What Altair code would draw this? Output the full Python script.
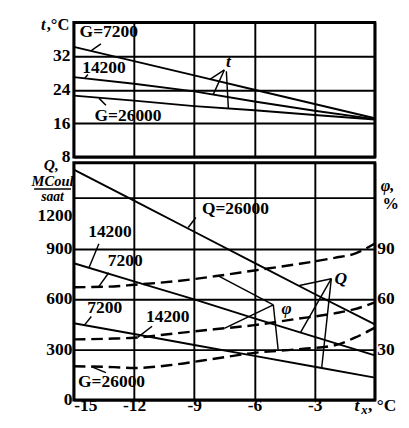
import altair as alt
import pandas as pd

FONT = "Liberation Serif"

# ---------------- data ----------------
x_t = [-15, -12, -9, -6, -3, 0]
t_7200 = [34.2, 30.8, 27.4, 24.0, 20.6, 17.2]
t_14200 = [27.0, 25.4, 23.6, 21.2, 19.0, 17.0]
t_26000 = [22.6, 21.4, 20.1, 19.1, 18.0, 16.9]

x_q = [-15, -12, -9, -6, -3, 0]
q_7200 = [456, 392, 327, 262, 197, 133]
q_14200 = [813, 705, 598, 485, 375, 265]
q_26000 = [1370, 1185, 1000, 815, 630, 450]

x_phi = [-15, -13, -12, -10, -8, -6, -4, -2, -1, 0]
phi_7200 = [67, 67.5, 68.5, 70.5, 73.5, 77, 80.5, 84.5, 87, 93]
phi_14200 = [36, 36.5, 37, 39.5, 42, 44.5, 48, 51.5, 54, 58]
phi_26000 = [20, 19.5, 19, 21, 24.5, 28, 30, 32.5, 37, 43]

x_ticks = [-15, -12, -9, -6, -3, 0]
t_ticks = [8, 16, 24, 32]
q_ticks = [0, 300, 600, 900, 1200]
phi_ticks = [30, 60, 90]

# curve labels (top panel, t units)
top_label_text = ["G=7200", "14200", "G=26000"]
top_label_x = [-13.26, -13.5, -12.3]
top_label_y = [37.7, 29.2, 17.7]
# leader lines (top panel)
top_lead_x = [-13.65, -14.3, -13.4, -7.5, -7.5, -7.4]
top_lead_y = [34.9, 27.6, 20.3, 28.7, 28.7, 28.4]
top_lead_x2 = [-14.13, -14.45, -13.75, -8.2, -8.05, -7.3]
top_lead_y2 = [33.3, 26.8, 22.0, 26.5, 22.9, 19.6]
top_sym_text = ["t"]
top_sym_x = [-7.3]
top_sym_y = [30.5]

# curve labels (bottom panel, Q units)
bot_label_text = ["Q=26000", "14200", "7200", "7200", "14200", "G=26000"]
bot_label_x = [-6.95, -13.2, -12.44, -13.46, -10.32, -13.12]
bot_label_y = [1136, 998, 825, 548, 490, 104]
bot_sym_text = ["φ", "Q"]
bot_sym_x = [-4.4, -1.7]
bot_sym_y = [540, 720]
bot_lead_x = [-8.92, -13.75, -13.26, -14.13, -11.1, -13.4,
              -5.06, -5.06, -5.06, -2.17, -2.17, -2.17]
bot_lead_y = [1085, 929, 756, 496, 438, 162,
              565, 565, 565, 721, 721, 721]
bot_lead_x2 = [-9.3, -14.25, -13.75, -14.47, -11.82, -14.13,
               -7.8, -7.5, -4.82, -3.76, -3.71, -2.65]
bot_lead_y2 = [1025, 785, 675, 445, 372, 198,
               738, 426, 300, 680, 400, 190]

# ---------------- tables ----------------
top_df = pd.DataFrame({
    "x": x_t * 3,
    "t": t_7200 + t_14200 + t_26000,
    "G": ["7200"] * len(x_t) + ["14200"] * len(x_t) + ["26000"] * len(x_t),
})
q_df = pd.DataFrame({
    "x": x_q * 3,
    "Q": q_7200 + q_14200 + q_26000,
    "G": ["7200"] * len(x_q) + ["14200"] * len(x_q) + ["26000"] * len(x_q),
})
phi_df = pd.DataFrame({
    "x": x_phi * 3,
    "phi": phi_7200 + phi_14200 + phi_26000,
    "G": ["7200"] * len(x_phi) + ["14200"] * len(x_phi) + ["26000"] * len(x_phi),
})
top_lab_df = pd.DataFrame({"text": top_label_text, "x": top_label_x, "y": top_label_y})
top_lead_df = pd.DataFrame({"x": top_lead_x, "y": top_lead_y, "x2": top_lead_x2, "y2": top_lead_y2})
top_sym_df = pd.DataFrame({"text": top_sym_text, "x": top_sym_x, "y": top_sym_y})
bot_lab_df = pd.DataFrame({"text": bot_label_text, "x": bot_label_x, "y": bot_label_y})
bot_sym_df = pd.DataFrame({"text": bot_sym_text, "x": bot_sym_x, "y": bot_sym_y})
bot_lead_df = pd.DataFrame({"x": bot_lead_x, "y": bot_lead_y, "x2": bot_lead_x2, "y2": bot_lead_y2})
one = pd.DataFrame({"a": [0]})

xs = alt.Scale(domain=[-15, 0], nice=False, zero=False)
ts = alt.Scale(domain=[8, 40], nice=False, zero=False)
qs = alt.Scale(domain=[0, 1410], nice=False, zero=False)
ps = alt.Scale(domain=[0, 141], nice=False, zero=False)

AX_TOP_X = alt.Axis(values=x_ticks, labels=False, title=None, grid=True, minExtent=0, maxExtent=0)
AX_TOP_Y = alt.Axis(values=t_ticks, title=None, grid=True, labelPadding=4)
AX_BOT_X = alt.Axis(values=x_ticks, title=None, grid=True, labelPadding=-3,
                    labelExpr="datum.value == 0 ? '' : '' + datum.value")
AX_BOT_Y = alt.Axis(values=q_ticks, title=None, grid=True, labelPadding=2,
                    labelExpr="'' + datum.value",
                    labelOffset={"condition": {"test": "datum.value == 1200", "value": 18}, "value": 0})
AX_PHI = alt.Axis(orient="right", values=phi_ticks, title=None, grid=False, labelPadding=2)

W = 311
H_TOP = 139
H_BOT = 245


def deco(text, x, y, size=18, style="normal", align="left", weight="bold"):
    return alt.Chart(one).mark_text(
        font=FONT, fontSize=size, fontStyle=style, fontWeight=weight,
        align=align, baseline="middle", color="black"
    ).encode(x=alt.value(x), y=alt.value(y), text=alt.value(text))


# ---------------- top panel ----------------
tx = alt.X("x:Q", scale=xs, axis=AX_TOP_X)
top_lines = alt.Chart(top_df).mark_line(color="black", strokeWidth=2).encode(
    x=tx, y=alt.Y("t:Q", scale=ts, axis=AX_TOP_Y), detail="G:N")
top_labels = alt.Chart(top_lab_df).mark_text(
    font=FONT, fontSize=18, fontWeight="bold", color="black"
).encode(x=tx, y=alt.Y("y:Q", scale=ts, axis=AX_TOP_Y), text="text:N")
top_leads = alt.Chart(top_lead_df).mark_rule(color="black", strokeWidth=1.5).encode(
    x=tx, y=alt.Y("y:Q", scale=ts, axis=AX_TOP_Y), x2="x2:Q", y2="y2:Q")
top_sym = alt.Chart(top_sym_df).mark_text(
    font=FONT, fontSize=18, fontStyle="italic", fontWeight="bold", color="black"
).encode(x=tx, y=alt.Y("y:Q", scale=ts, axis=AX_TOP_Y), text="text:N")

top = alt.layer(
    top_lines, top_leads, top_labels, top_sym,
    deco("t", -34, 3, size=17, style="italic"),
    deco(",°C", -28, 3, size=17),
).properties(width=W, height=H_TOP)

# ---------------- bottom panel ----------------
bx = alt.X("x:Q", scale=xs, axis=AX_BOT_X)
q_lines = alt.Chart(q_df).mark_line(color="black", strokeWidth=2).encode(
    x=bx, y=alt.Y("Q:Q", scale=qs, axis=AX_BOT_Y), detail="G:N")
bot_labels = alt.Chart(bot_lab_df).mark_text(
    font=FONT, fontSize=18, fontWeight="bold", color="black"
).encode(x=bx, y=alt.Y("y:Q", scale=qs, axis=AX_BOT_Y), text="text:N")
bot_sym = alt.Chart(bot_sym_df).mark_text(
    font=FONT, fontSize=18, fontStyle="italic", fontWeight="bold", color="black"
).encode(x=bx, y=alt.Y("y:Q", scale=qs, axis=AX_BOT_Y), text="text:N")
bot_leads = alt.Chart(bot_lead_df).mark_rule(color="black", strokeWidth=1.5).encode(
    x=bx, y=alt.Y("y:Q", scale=qs, axis=AX_BOT_Y), x2="x2:Q", y2="y2:Q")

bar = alt.Chart(one).mark_rule(color="black", strokeWidth=1.5).encode(
    x=alt.value(-41), x2=alt.value(-3), y=alt.value(27))

q_group = alt.layer(
    q_lines, bot_leads, bot_labels, bot_sym, bar,
    deco("Q,", -31, 2, size=16, style="italic"),
    deco("MCoul", -22, 19, size=15, style="italic", align="center"),
    deco("saat", -22, 35, size=14, style="italic", align="center"),
    deco("φ,", 317, 24, size=17, style="italic"),
    deco("%", 319, 43, size=17),
    deco("t", 290, 251, style="italic"),
    deco("x", 297, 256, size=13, style="italic"),
    deco(", °C", 304, 251),
)

phi_lines = alt.Chart(phi_df).mark_line(
    color="black", strokeWidth=2.5, strokeDash=[12, 6], interpolate="monotone"
).encode(
    x=bx,
    y=alt.Y("phi:Q", scale=ps, axis=AX_PHI),
    detail="G:N",
)

bottom = alt.layer(q_group, phi_lines).resolve_scale(y="independent").properties(
    width=W, height=H_BOT)

chart = alt.vconcat(top, bottom, spacing=6, bounds="flush").properties(
    padding={"left": 22, "top": 0, "right": 0, "bottom": 0}
).configure_view(
    stroke="black", strokeWidth=3
).configure_axis(
    gridColor="black", gridWidth=2, gridOpacity=1,
    ticks=False, domain=False,
    labelFont=FONT, labelFontSize=18, labelFontWeight="bold", labelColor="black",
)

chart.save("out.html", embed_options={"renderer": "svg", "actions": False})
